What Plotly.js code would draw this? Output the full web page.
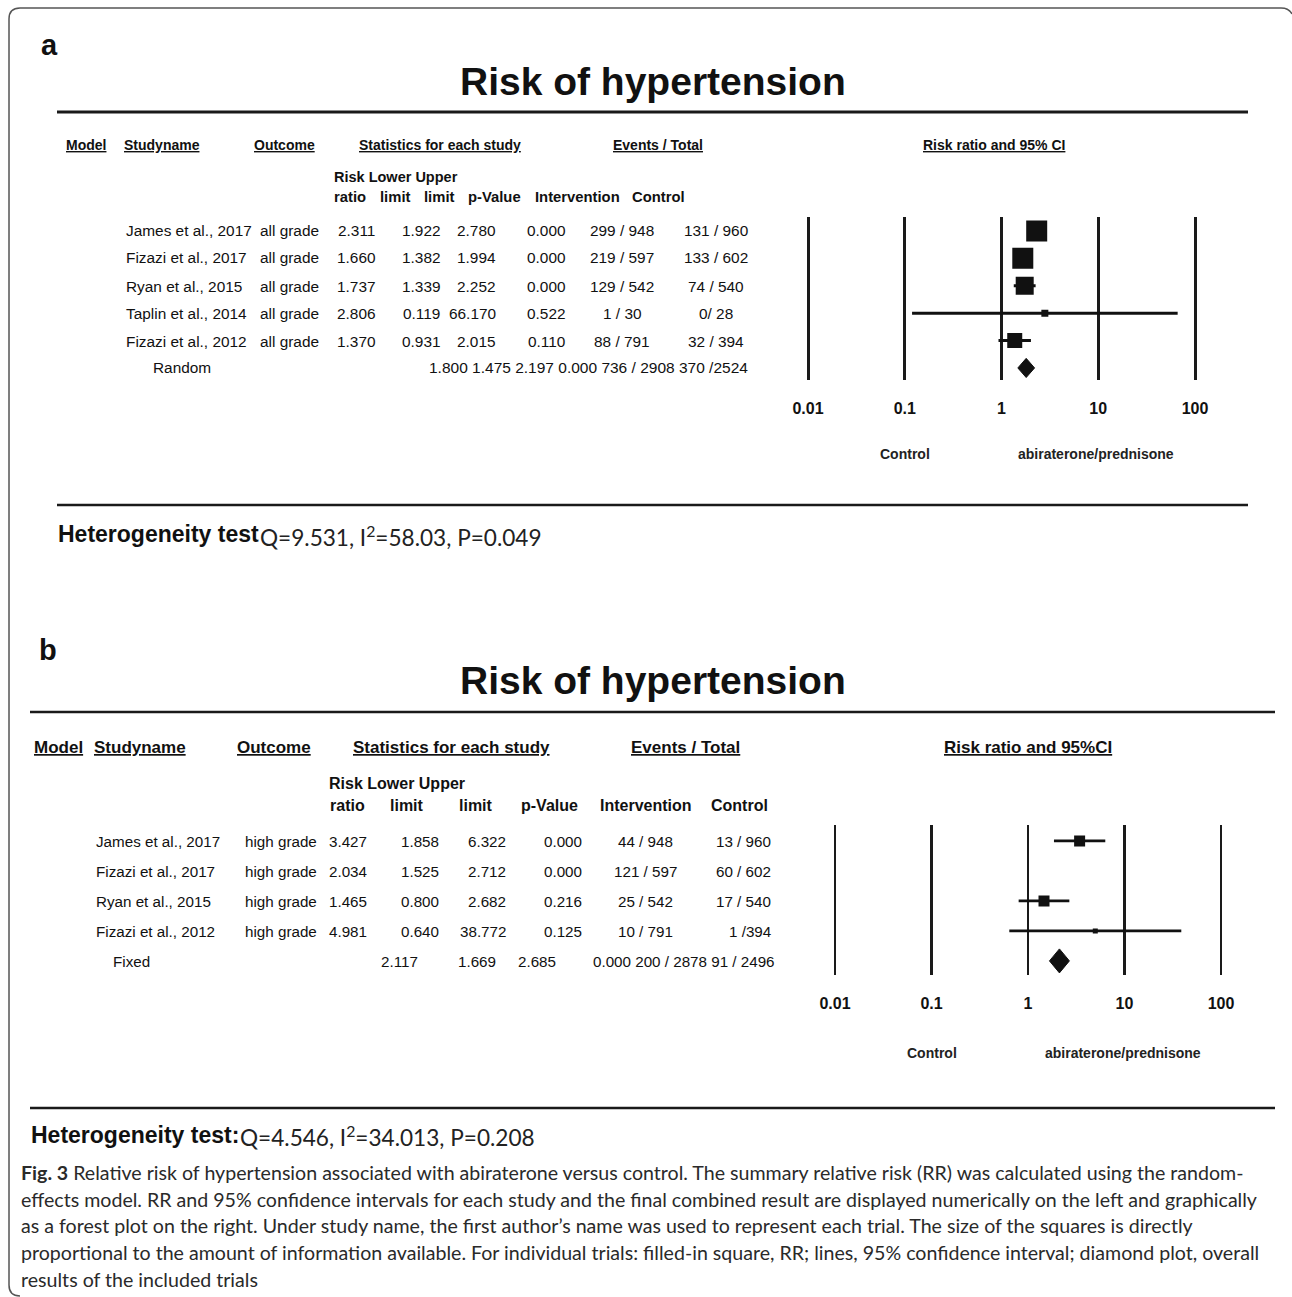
<!DOCTYPE html>
<html>
<head>
<meta charset="utf-8">
<script src="https://cdn.plot.ly/plotly-3.0.1.min.js"></script>
<style>html,body{margin:0;padding:0;background:#fff;}#chart{width:1292px;height:1297px;}</style>
</head>
<body>
<div id="chart"></div>
<script>
// ---------------- DATA ----------------
const titleText = 'Risk of hypertension';
const tickVals = [0.01, 0.1, 1, 10, 100];
const tickLabels = ['0.01', '0.1', '1', '10', '100'];

// Panel a (all grade)
const studiesA = ['James et al., 2017', 'Fizazi et al., 2017', 'Ryan et al., 2015', 'Taplin et al., 2014', 'Fizazi et al., 2012'];
const outcomeA = ['all grade', 'all grade', 'all grade', 'all grade', 'all grade'];
const rrA = [2.311, 1.660, 1.737, 2.806, 1.370];
const lowA = [1.922, 1.382, 1.339, 0.119, 0.931];
const upA = [2.780, 1.994, 2.252, 66.170, 2.015];
const pA = [0.000, 0.000, 0.000, 0.522, 0.110];
const intA = ['299 / 948', '219 / 597', '129 / 542', '1 / 30', '88 / 791'];
const ctlA = ['131 / 960', '133 / 602', '74 / 540', '0/ 28', '32 / 394'];
const pooledLabelA = 'Random';
const pooledRrA = 1.800, pooledLowA = 1.475, pooledUpA = 2.197, pooledPA = 0.000;
const pooledIntA = '736 / 2908', pooledCtlA = '370 /2524';
const colHeadA = ['ratio', 'limit', 'limit', 'p-Value', 'Intervention', 'Control'];
const hetA = 'Q=9.531, I<sup>2</sup>=58.03, P=0.049';

// Panel b (high grade)
const studiesB = ['James et al., 2017', 'Fizazi et al., 2017', 'Ryan et al., 2015', 'Fizazi et al., 2012'];
const outcomeB = ['high grade', 'high grade', 'high grade', 'high grade'];
const rrB = [3.427, 2.034, 1.465, 4.981];
const lowB = [1.858, 1.525, 0.800, 0.640];
const upB = [6.322, 2.712, 2.682, 38.772];
const pB = [0.000, 0.000, 0.216, 0.125];
const intB = ['44 / 948', '121 / 597', '25 / 542', '10 / 791'];
const ctlB = ['13 / 960', '60 / 602', '17 / 540', '1 /394'];
const shownInPlotB = [true, false, true, true]; // the reference omits the Fizazi 2017 mark
const pooledLabelB = 'Fixed';
const pooledRrB = 2.117, pooledLowB = 1.669, pooledUpB = 2.685, pooledPB = 0.000;
const pooledIntB = '200 / 2878', pooledCtlB = '91 / 2496';
const colHeadB = ['ratio', 'limit', 'limit', 'p-Value', 'Intervention', 'Control'];
const hetB = 'Q=4.546, I<sup>2</sup>=34.013, P=0.208';

const captionLines = [
  '<b>Fig. 3</b> Relative risk of hypertension associated with abiraterone versus control. The summary relative risk (RR) was calculated using the random-',
  'effects model. RR and 95% confidence intervals for each study and the final combined result are displayed numerically on the left and graphically',
  'as a forest plot on the right. Under study name, the first author\u2019s name was used to represent each trial. The size of the squares is directly',
  'proportional to the amount of information available. For individual trials: filled-in square, RR; lines, 95% confidence interval; diamond plot, overall',
  'results of the included trials'
];

// ---------------- STYLE ----------------
const W = 1292, H = 1297;
const px = x => x / W;
const py = y => 1 - y / H;
const SANS = 'Liberation Sans, Arial, sans-serif';
const CAL = 'Lato, Open Sans, sans-serif';
const INK = '#111';
const sqSizeA = [21, 21, 18, 7, 15];
const sqSizeB = [11, 11, 11, 5];

const annotations = [];
function T(text, x, y, size, o) {
  o = o || {};
  annotations.push({
    text: text, x: px(x), y: py(y), xref: 'paper', yref: 'paper', showarrow: false,
    xanchor: o.anchor || 'left', yanchor: 'middle', borderpad: 0,
    font: { family: o.family || SANS, size: size, color: o.color || INK, weight: o.bold ? 'bold' : 'normal' }
  });
}
const f3 = v => v.toFixed(3);

// ---------------- PANEL A TEXT ----------------
T('a', 40, 45, 29, { bold: true });
T(titleText, 653, 82, 39, { bold: true, anchor: 'center' });
const hdrA = [['Model', 65], ['Studyname', 123], ['Outcome', 253], ['Statistics for each study', 358], ['Events / Total', 612], ['Risk ratio and 95% CI', 922]];
hdrA.forEach(h => T('<u>' + h[0] + '</u>', h[1], 145, 14, { bold: true }));
T('Risk Lower Upper', 333, 177, 14.5, { bold: true });
const colXA = [333, 379, 423, 467, 534, 631];
colHeadA.forEach((h, i) => T(h, colXA[i], 197, 14.8, { bold: true }));
const rowYA = [231, 258, 286, 313, 341, 368];
studiesA.forEach((s, i) => {
  const y = rowYA[i], fs = 15.4;
  T(s, 125, y, fs);
  T(outcomeA[i], 320, y, fs, { anchor: 'right' });
  T(f3(rrA[i]), 356, y, fs, { anchor: 'center' });
  T(f3(lowA[i]), 421, y, fs, { anchor: 'center' });
  T(f3(upA[i]), 497, y, fs, { anchor: 'right' });
  T(f3(pA[i]), 546, y, fs, { anchor: 'center' });
  T(intA[i], 622, y, fs, { anchor: 'center' });
  T(ctlA[i], 716, y, fs, { anchor: 'center' });
});
T(pooledLabelA, 152, rowYA[5], 15.4);
T([f3(pooledRrA), f3(pooledLowA), f3(pooledUpA), f3(pooledPA), pooledIntA, pooledCtlA].join(' '), 428, rowYA[5], 15.5);
T('Control', 905, 454, 14, { bold: true, anchor: 'center', color: '#222' });
T('abiraterone/prednisone', 1096, 454, 14, { bold: true, anchor: 'center', color: '#222' });
T('Heterogeneity test', 57, 534, 23, { bold: true });
T(hetA, 259, 536, 22.6, { family: CAL, color: '#222' });

// ---------------- PANEL B TEXT ----------------
T('b', 38, 650, 29, { bold: true });
T(titleText, 653, 680, 39, { bold: true, anchor: 'center' });
const hdrB = [['Model', 33], ['Studyname', 93], ['Outcome', 236], ['Statistics for each study', 352], ['Events / Total', 630], ['Risk ratio and 95%CI', 943]];
hdrB.forEach(h => T('<u>' + h[0] + '</u>', h[1], 748, 17, { bold: true }));
T('Risk Lower Upper', 328, 783, 16, { bold: true });
const colXB = [347, 407, 476, 549, 646, 740];
colHeadB.forEach((h, i) => T(h, colXB[i], 805, 16, { bold: true, anchor: 'center' }));
const rowYB = [841, 871, 901, 931, 961];
const fsB = 15.2;
studiesB.forEach((s, i) => {
  const y = rowYB[i];
  T(s, 95, y, fsB);
  T(outcomeB[i], 318, y, fsB, { anchor: 'right' });
  T(f3(rrB[i]), 348, y, fsB, { anchor: 'center' });
  T(f3(lowB[i]), 440, y, fsB, { anchor: 'right' });
  T(f3(upB[i]), 507, y, fsB, { anchor: 'right' });
  T(f3(pB[i]), 583, y, fsB, { anchor: 'right' });
  T(intB[i], 645, y, fsB, { anchor: 'center' });
  T(ctlB[i], 772, y, fsB, { anchor: 'right' });
});
T(pooledLabelB, 112, rowYB[4], fsB);
T(f3(pooledRrB), 399, rowYB[4], fsB, { anchor: 'center' });
T(f3(pooledLowB), 477, rowYB[4], fsB, { anchor: 'center' });
T(f3(pooledUpB), 537, rowYB[4], fsB, { anchor: 'center' });
T([f3(pooledPB), pooledIntB, pooledCtlB].join(' '), 776, rowYB[4], fsB, { anchor: 'right' });
T('Control', 932, 1053, 14, { bold: true, anchor: 'center', color: '#222' });
T('abiraterone/prednisone', 1123, 1053, 14, { bold: true, anchor: 'center', color: '#222' });
T('Heterogeneity test:', 30, 1135, 23, { bold: true });
T(hetB, 239, 1136, 22.6, { family: CAL, color: '#222' });

// caption
const capY = [1172, 1199, 1225, 1252, 1279];
captionLines.forEach((l, i) => T(l, 20, capY[i], 19.6, { family: CAL, color: '#2a2a2a' }));

// ---------------- FOREST TRACES ----------------
function sub(a, b) { return a.map((v, i) => v - b[i]); }
function rowsIdx(n) { return Array.from({ length: n }, (_, i) => i); }

const idxA = rowsIdx(studiesA.length);
const traceA = {
  type: 'scatter', mode: 'markers', xaxis: 'x', yaxis: 'y', hoverinfo: 'skip',
  x: rrA, y: idxA,
  marker: { symbol: 'square', size: sqSizeA, color: INK, opacity: 1, line: { width: 0 } },
  error_x: { type: 'data', symmetric: false, array: sub(upA, rrA), arrayminus: sub(rrA, lowA), thickness: 3, width: 0, color: INK }
};
const hA = 0.35, rowPA = studiesA.length;
const diamondA = {
  type: 'scatter', mode: 'lines', xaxis: 'x', yaxis: 'y', hoverinfo: 'skip',
  x: [pooledLowA, pooledRrA, pooledUpA, pooledRrA, pooledLowA],
  y: [rowPA, rowPA - hA, rowPA, rowPA + hA, rowPA],
  fill: 'toself', fillcolor: INK, line: { color: INK, width: 1 }
};

const idxB = rowsIdx(studiesB.length).filter(i => shownInPlotB[i]);
const traceB = {
  type: 'scatter', mode: 'markers', xaxis: 'x2', yaxis: 'y2', hoverinfo: 'skip',
  x: idxB.map(i => rrB[i]), y: idxB,
  marker: { symbol: 'square', size: idxB.map(i => sqSizeB[i]), color: INK, opacity: 1, line: { width: 0 } },
  error_x: { type: 'data', symmetric: false, array: idxB.map(i => upB[i] - rrB[i]), arrayminus: idxB.map(i => rrB[i] - lowB[i]), thickness: 2.8, width: 0, color: INK }
};
const hB = 0.4, rowPB = studiesB.length;
const diamondB = {
  type: 'scatter', mode: 'lines', xaxis: 'x2', yaxis: 'y2', hoverinfo: 'skip',
  x: [pooledLowB, pooledRrB, pooledUpB, pooledRrB, pooledLowB],
  y: [rowPB, rowPB - hB, rowPB, rowPB + hB, rowPB],
  fill: 'toself', fillcolor: INK, line: { color: INK, width: 1 }
};

// ---------------- AXES ----------------
const pad = 0.05; // decades beyond 0.01 and 100
function xAxis(x001, x100, gw, anchor) {
  const dec = (x100 - x001) / 4;
  return {
    type: 'log', domain: [px(x001 - pad * dec), px(x100 + pad * dec)], range: [-2 - pad, 2 + pad],
    tickvals: tickVals, ticktext: tickLabels, ticks: '', showline: false, zeroline: false,
    showgrid: true, gridcolor: '#1a1a1a', gridwidth: gw, anchor: anchor,
    tickfont: { family: SANS, size: 16, color: INK, weight: 'bold' }, ticklabelstandoff: 17, fixedrange: true
  };
}
function yAxis(yTop, yBot, rTop, rBot, anchor) {
  return { domain: [py(yBot), py(yTop)], range: [rBot, rTop], showgrid: false, zeroline: false, showline: false,
    showticklabels: false, ticks: '', anchor: anchor, fixedrange: true };
}

// ---------------- SHAPES ----------------
function hline(x0, x1, y, w) {
  return { type: 'line', xref: 'paper', yref: 'paper', x0: px(x0), x1: px(x1), y0: py(y), y1: py(y), line: { color: '#1a1a1a', width: w } };
}
function P(x, y) { return px(x).toFixed(5) + ',' + py(y).toFixed(5); }
const borderPath = 'M' + P(20, 1296) + ' Q' + P(9, 1296) + ' ' + P(9, 1285) + ' L' + P(9, 19) +
  ' Q' + P(9, 8) + ' ' + P(20, 8) + ' L' + P(1281, 8) + ' Q' + P(1289, 8) + ' ' + P(1292, 14);
const shapes = [
  hline(57, 1248, 112, 3), hline(57, 1248, 505, 2.5),
  hline(30, 1275, 712, 2.5), hline(30, 1275, 1108, 2.5),
  { type: 'path', xref: 'paper', yref: 'paper', path: borderPath, line: { color: '#555', width: 1.5 } }
];

const layout = {
  width: W, height: H, margin: { l: 0, r: 0, t: 0, b: 0 },
  paper_bgcolor: '#fff', plot_bgcolor: 'rgba(0,0,0,0)', showlegend: false,
  xaxis: xAxis(808, 1195, 3, 'y'),
  yaxis: yAxis(217, 380, -0.51, 5.44, 'x'),
  xaxis2: xAxis(835, 1221, 2.6, 'y2'),
  yaxis2: yAxis(825, 975, -0.53, 4.47, 'x2'),
  annotations: annotations, shapes: shapes
};

Plotly.newPlot('chart', [traceA, diamondA, traceB, diamondB], layout, { displayModeBar: false, staticPlot: true });
</script>
</body>
</html>
